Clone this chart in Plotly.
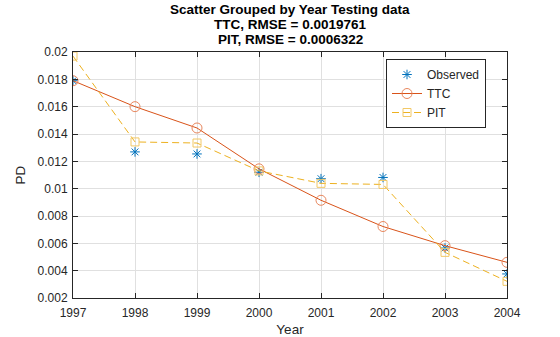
import plotly.graph_objects as go

years = [1997, 1998, 1999, 2000, 2001, 2002, 2003, 2004]
observed = [0.0179, 0.01269, 0.01254, 0.0112, 0.01073, 0.01082, 0.00566, 0.00376]
ttc = [0.0179, 0.0160, 0.01444, 0.01145, 0.00915, 0.00723, 0.00583, 0.00461]
pit = [0.0197, 0.01342, 0.01334, 0.0113, 0.01039, 0.01031, 0.00534, 0.00322]

xticks = [1997, 1998, 1999, 2000, 2001, 2002, 2003, 2004]
yticks = [0.002, 0.004, 0.006, 0.008, 0.01, 0.012, 0.014, 0.016, 0.018, 0.02]
yticktext = ["0.002", "0.004", "0.006", "0.008", "0.01", "0.012", "0.014", "0.016", "0.018", "0.02"]

title_lines = ["Scatter Grouped by Year Testing data",
               "TTC, RMSE = 0.0019761",
               "PIT, RMSE = 0.0006322"]

blue = "#0072BD"
orange = "#D95319"
yellow = "#EDB120"
FONT = "Liberation Sans, Arial"

fig = go.Figure()
fig.add_trace(go.Scatter(x=years, y=observed, mode="markers", name="Observed",
                         marker=dict(symbol="asterisk-open", size=8, color=blue,
                                     line=dict(color="#2a86cc", width=1))))
fig.add_trace(go.Scatter(x=years, y=ttc, mode="lines+markers", name="TTC",
                         line=dict(color=orange, width=1),
                         marker=dict(symbol="circle-open", size=10, color="#E8875E",
                                     line=dict(color="#E8875E", width=1))))
fig.add_trace(go.Scatter(x=years, y=pit, mode="lines+markers", name="PIT",
                         line=dict(color=yellow, width=1, dash="7px,4px"),
                         marker=dict(symbol="square-open", size=8, color="#F2C866",
                                     line=dict(color="#F2C866", width=1))))

axis_common = dict(showline=True, linecolor="#262626", linewidth=1, mirror="ticks",
                   ticks="inside", ticklen=5, tickcolor="#262626", automargin=False,
                   showgrid=True, gridcolor="#e0e0e0", gridwidth=1, zeroline=False,
                   tickfont=dict(family=FONT, size=12, color="#262626"))

fig.update_xaxes(range=[1997, 2004], tickvals=xticks, ticktext=[str(t) for t in xticks],
                 ticklabelstandoff=4,
                 title=dict(text="Year", font=dict(family=FONT, size=13.5, color="#262626"),
                            standoff=5), **axis_common)
fig.update_yaxes(range=[0.002, 0.02], tickvals=yticks, ticktext=yticktext,
                 ticklabelstandoff=2,
                 title=dict(text="PD", font=dict(family=FONT, size=13.5, color="#262626"),
                            standoff=8), **axis_common)

annotations = []
for i, line in enumerate(title_lines):
    annotations.append(dict(text="<b>" + line + "</b>", xref="paper", yref="paper",
                            x=0.5, y=1, xanchor="center", yanchor="middle",
                            yshift=52 - (9 + 15 * i), showarrow=False,
                            font=dict(family=FONT, size=13.5, color="black")))

fig.update_layout(
    width=560, height=337,
    margin=dict(l=73, r=53, t=52, b=39, autoexpand=False),
    paper_bgcolor="white", plot_bgcolor="white",
    annotations=annotations,
    legend=dict(x=1 - 21 / 434, y=1 - 7 / 246, xanchor="right", yanchor="top",
                bgcolor="white", bordercolor="#262626", borderwidth=1,
                font=dict(family=FONT, size=12, color="#262626"),
                tracegroupgap=0, itemwidth=30),
    showlegend=True,
)

fig.write_html("out.html")
